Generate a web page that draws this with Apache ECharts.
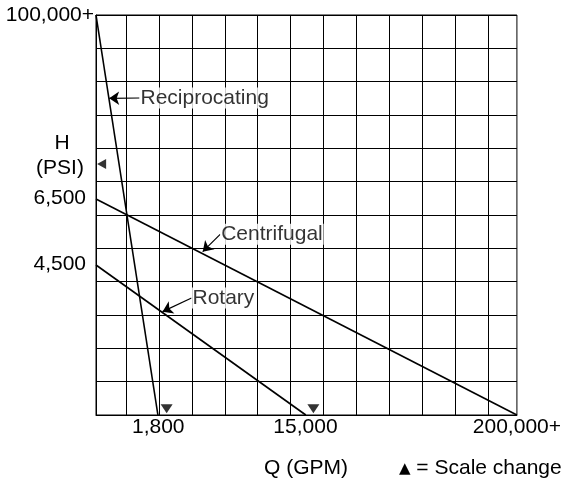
<!DOCTYPE html>
<html>
<head>
<meta charset="utf-8">
<script src="https://cdn.jsdelivr.net/npm/echarts@6/dist/echarts.min.js"></script>
<style>
html,body{margin:0;padding:0;background:#fff;}
#chart{width:564px;height:484px;}
</style>
</head>
<body>
<div id="chart"></div>
<script>
// Chart units: x = grid columns from left edge, y = grid rows from bottom
const xMax = 12.78;
const yMax = 12;
const xGridLines = [0.91, 1.91, 2.91, 3.91, 4.91, 5.91, 6.91, 7.91, 8.91, 9.91, 10.91, 11.91];

const xTickPos = [1.89, 6.36, 12.78];
const xTickLabels = ['1,800', '15,000', '200,000+'];
const yTickPos = [12, 6.51, 4.53];
const yTickLabels = ['100,000+', '6,500', '4,500'];

const reciprocating = [[0, 12], [1.88, 0]];
const centrifugal = [[0, 6.48], [12.78, 0]];
const rotary = [[0, 4.5], [6.37, 0]];

// annotation: label, tail (text anchor), tip (arrow point on line)
const annoNames = ['Reciprocating', 'Centrifugal', 'Rotary'];
const annoTail = [[1.32, 9.51], [3.77, 5.42], [2.90, 3.51]];
const annoTip = [[0.40, 9.50], [3.24, 4.90], [2.02, 3.10]];

// scale-change markers
const downMarks = [[2.145, 0.19], [6.60, 0.19]];
const leftMarks = [[0.17, 7.53]];

const FONT = "'Liberation Sans', Arial, Helvetica, sans-serif";
const FS = 21;
const chart = echarts.init(document.getElementById('chart'), null, {renderer: 'canvas'});

function nearestLabel(v, pos, labels) {
  let best = 0, d = Infinity;
  pos.forEach((p, i) => { if (Math.abs(p - v) < d) { d = Math.abs(p - v); best = i; } });
  return labels[best];
}

const lineStyle = {color: '#000', width: 1.6};
function lineSeries(name, data, extra) {
  return Object.assign({
    name: name, type: 'line', data: data, symbol: 'none', silent: true,
    lineStyle: lineStyle, animation: false, z: 5
  }, extra || {});
}

const option = {
  animation: false,
  grid: {left: 96, top: 15, width: 426, height: 400, show: true, borderColor: '#000', borderWidth: 1, containLabel: false},
  xAxis: {
    type: 'value', min: 0, max: xMax,
    axisLine: {show: true, lineStyle: {color: '#000', width: 1}},
    axisTick: {show: false},
    splitLine: {show: false},
    axisLabel: {
      customValues: xTickPos, margin: 2, color: '#000', fontSize: FS, fontFamily: FONT,
      showMinLabel: true, showMaxLabel: true, hideOverlap: false,
      formatter: v => nearestLabel(v, xTickPos, xTickLabels)
    }
  },
  yAxis: {
    type: 'value', min: 0, max: yMax, interval: 1,
    axisLine: {show: true, lineStyle: {color: '#000', width: 1}},
    axisTick: {show: false},
    splitLine: {show: true, lineStyle: {color: '#000', width: 1}},
    axisLabel: {
      customValues: yTickPos, margin: 2, color: '#000', fontSize: FS, fontFamily: FONT,
      showMinLabel: true, showMaxLabel: true, hideOverlap: false,
      formatter: v => {
        const t = nearestLabel(v, yTickPos, yTickLabels);
        return t === yTickLabels[0] ? t : '{p|' + t + '}';
      },
      rich: {p: {fontSize: FS, fontFamily: FONT, color: '#000', padding: [0, 8, 0, 0]}}
    }
  },
  series: [
    lineSeries('Centrifugal', centrifugal, {
      markLine: {
        silent: true, symbol: 'none', animation: false,
        label: {show: false},
        lineStyle: {type: 'solid', color: '#000', width: 1},
        data: xGridLines.map(v => ({xAxis: v}))
      }
    }),
    lineSeries('Reciprocating', reciprocating),
    lineSeries('Rotary', rotary),
    {
      type: 'line', data: [], silent: true, animation: false,
      markLine: {
        silent: true, animation: false,
        symbol: ['none', 'arrow'], symbolSize: 10,
        label: {show: false},
        lineStyle: {type: 'solid', color: '#000', width: 1.2},
        data: annoNames.map((n, i) => [{coord: annoTail[i]}, {coord: annoTip[i]}])
      }
    },
    {
      type: 'scatter', silent: true, animation: false, z: 6,
      symbolSize: 0,
      data: annoNames.map((n, i) => ({value: annoTail[i], name: n})),
      label: {show: true, position: 'right', distance: 0, formatter: p => p.name,
              color: '#000', fontSize: FS, fontFamily: FONT, backgroundColor: '#fff', padding: [0, 1, 0, 1]}
    },
    {
      type: 'scatter', silent: true, animation: false, z: 6,
      symbol: 'triangle', symbolRotate: 180, symbolSize: [12, 9],
      itemStyle: {color: '#000'},
      data: downMarks
    },
    {
      type: 'scatter', silent: true, animation: false, z: 6,
      symbol: 'triangle', symbolRotate: 90, symbolSize: [10, 9],
      itemStyle: {color: '#000'},
      data: leftMarks
    }
  ],
  graphic: [
    {type: 'text', x: 62, y: 143, silent: true,
     style: {text: 'H', fontSize: FS, fontFamily: FONT, fill: '#000', align: 'center', verticalAlign: 'middle'}},
    {type: 'text', x: 60, y: 168, silent: true,
     style: {text: '(PSI)', fontSize: FS, fontFamily: FONT, fill: '#000', align: 'center', verticalAlign: 'middle'}},
    {type: 'text', x: 264, y: 468, silent: true,
     style: {text: 'Q (GPM)', fontSize: FS, fontFamily: FONT, fill: '#000', align: 'left', verticalAlign: 'middle'}},
    {type: 'text', x: 399, y: 468, silent: true,
     style: {text: '{t|▲} = Scale change', fontSize: FS, fontFamily: FONT, fill: '#000', align: 'left', verticalAlign: 'middle',
             rich: {t: {fontSize: 15, fontFamily: "'DejaVu Sans', sans-serif", fill: '#000', padding: [3, 0, 0, 0]}}}}
  ]
};
chart.setOption(option);
</script>
</body>
</html>
